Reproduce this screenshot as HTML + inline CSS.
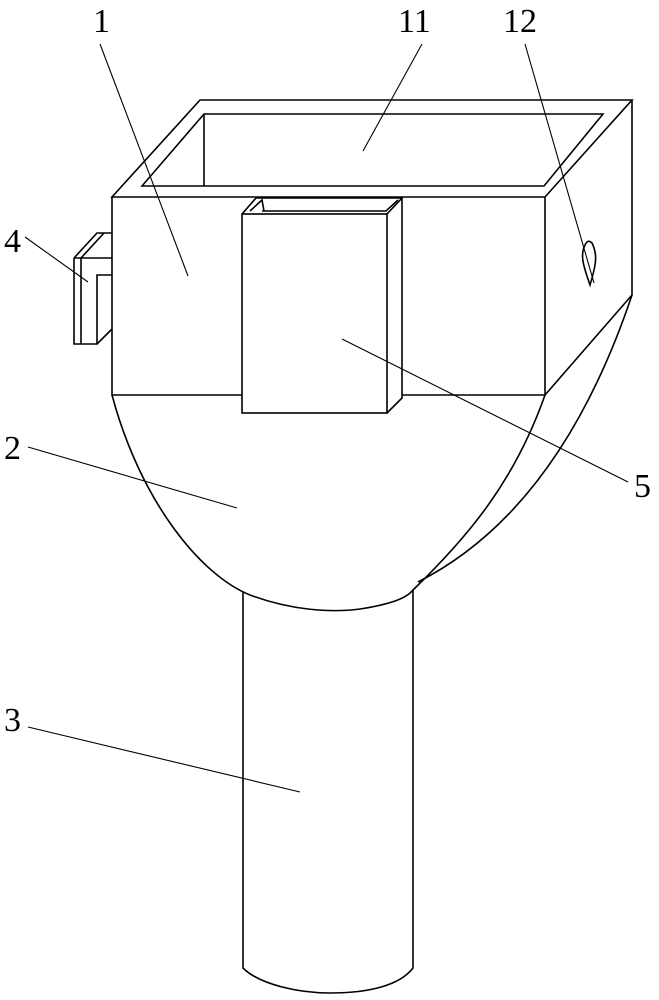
<!DOCTYPE html>
<html><head><meta charset="utf-8"><style>html,body{margin:0;padding:0;background:#fff}svg{display:block}</style></head>
<body>
<svg width="659" height="1000" viewBox="0 0 659 1000" xmlns="http://www.w3.org/2000/svg">
<g fill="none" stroke="#000" stroke-width="1.6" stroke-linejoin="miter">
<!-- top rim -->
<path d="M112,197 L200,100 L632,100 L545,197 Z"/>
<path d="M142,186 L204,114 L603,114 L544,186 Z"/>
<path d="M204,114 L204,186"/>
<!-- front box -->
<path d="M112,197 L112,395 L242,395"/>
<path d="M402,395 L545,395 L545,197"/>
<!-- right side -->
<path d="M632,100 L632,295 L545,395"/>
<!-- part 5 -->
<rect x="242" y="214" width="145" height="199"/>
<path d="M242,214 L256,198 L402,198 L387,214"/>
<path d="M250,211 L262,200 L264,211 M262,211 L386,211 L398,200"/>
<path d="M402,198 L402,398 L387,413"/>
<!-- bracket 4 -->
<path d="M74,258 L74,344 L97,344 L97,275 L112,275"/>
<path d="M74,258 L112,258"/>
<path d="M81,258 L81,344"/>
<path d="M74,258 L97,233 L112,233"/>
<path d="M81,258 L104,233"/>
<path d="M97,344 L112,329"/>
<!-- bowl -->
<path d="M112,395 C140,500 200,575 250,595 C290,610 330,613 360,609 C385,605 405,600 413,590"/>
<path d="M545,395 C515,480 470,535 413,590"/>
<path d="M632,295 C600,390 540,520 418,582"/>
<!-- pipe -->
<path d="M243,592 L243,968 C260,985 300,993 330,993 C370,993 400,985 413,968 L413,589"/>
<!-- eye 12 -->
<path d="M585,245 C580,255 583,265 590,285 C596,265 598,255 592,243 C589,240 587,241 585,245 Z"/>
</g>
<g stroke="#000" stroke-width="1.1" fill="none">
<line x1="100" y1="44" x2="188" y2="276"/>
<line x1="422" y1="44" x2="363" y2="151"/>
<line x1="525" y1="44" x2="594" y2="283"/>
<line x1="25" y1="237" x2="88" y2="282"/>
<line x1="28" y1="447" x2="237" y2="508"/>
<line x1="628" y1="482" x2="342" y2="339"/>
<line x1="28" y1="727" x2="300" y2="792"/>
</g>
<g font-family="Liberation Serif, serif" font-size="34" fill="#000">
<text x="93" y="32">1</text>
<text x="398" y="32">11</text>
<text x="503" y="32">12</text>
<text x="4" y="252">4</text>
<text x="4" y="459">2</text>
<text x="634" y="497">5</text>
<text x="4" y="731">3</text>
</g>
</svg>
</body></html>
